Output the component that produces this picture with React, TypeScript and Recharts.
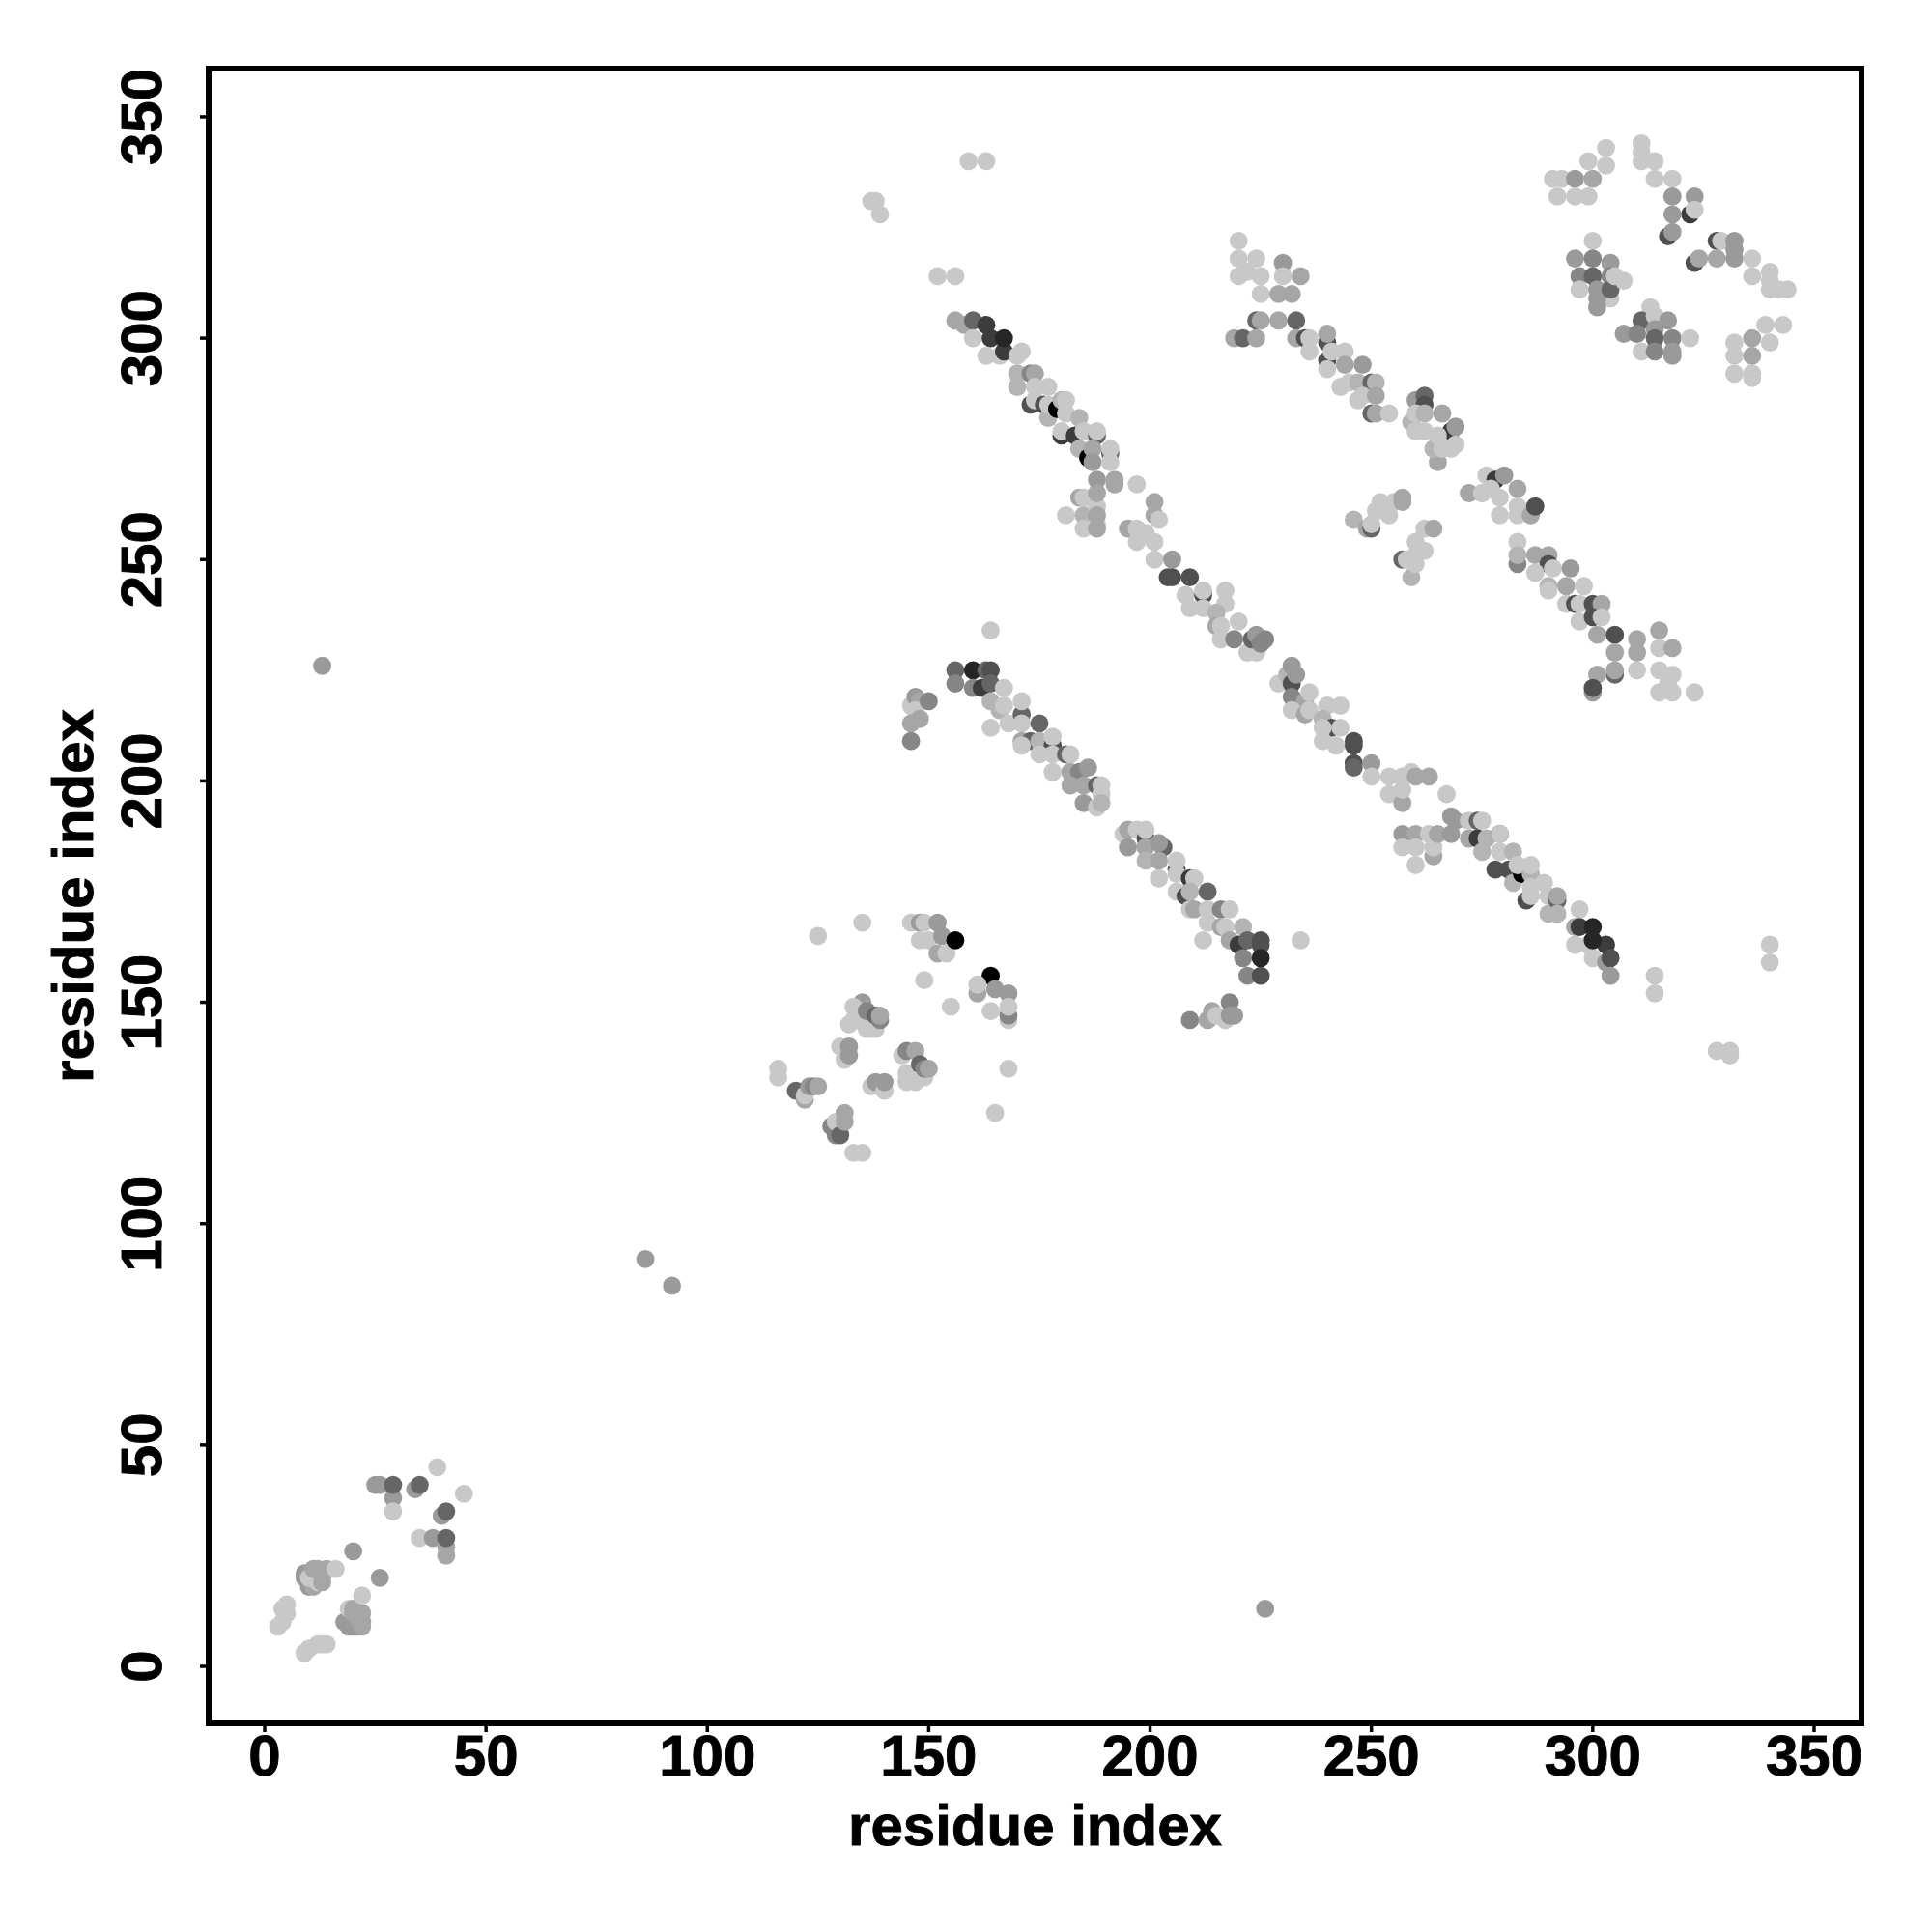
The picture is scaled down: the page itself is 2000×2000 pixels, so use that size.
import React from "react";
import { ScatterChart, Scatter, XAxis, YAxis, ReferenceArea, Label } from "recharts";

type Contact = [number, number, number]; // residue i, residue j, contact level (0 weak .. 9 strong)

const axisTicks = [0, 50, 100, 150, 200, 250, 300, 350];
const xDomain = [-12.66, 360.7];
const yDomain = [-12.87, 360.9];
const levelGreys = ["#c8c8c8", "#b4b4b4", "#a6a6a6", "#9a9a9a", "#868686", "#666666", "#505050", "#3c3c3c", "#262626", "#000000"];

const isolated: Contact[] = [
  [13, 226, 3], [86, 92, 3], [92, 86, 3], [226, 13, 3], [138, 331, 0], [139, 328, 0], [137, 331, 0],
  [159, 340, 0], [163, 340, 0], [152, 314, 0], [156, 314, 0], [164, 234, 0], [164, 212, 0], [197, 267, 0],
  [267, 197, 0], [234, 164, 0], [212, 164, 0], [314, 156, 0], [314, 152, 0], [340, 163, 0], [340, 159, 0],
  [328, 139, 0], [331, 139, 0], [331, 138, 0], [125, 165, 0], [135, 168, 0], [155, 149, 0], [149, 155, 0],
  [168, 135, 0], [165, 125, 0],
];

const bottomLeft: Contact[] = [
  [39, 45, 0], [45, 39, 0], [25, 41, 3], [26, 41, 3], [29, 38, 3], [29, 35, 0], [29, 41, 5], [34, 40, 3], [35, 41, 5],
  [40, 34, 3], [41, 35, 5], [35, 29, 0], [38, 29, 3], [41, 25, 2], [41, 27, 2], [41, 29, 5], [20, 26, 3], [26, 20, 3],
  [9, 21, 3], [9, 20, 3], [10, 18, 3], [10, 19, 3], [11, 18, 2], [10, 20, 0], [12, 19, 0], [11, 22, 2], [12, 22, 2],
  [14, 22, 2], [13, 20, 2], [13, 19, 2], [16, 22, 0],
  [5, 14, 0], [4, 13, 0], [5, 12, 0], [4, 10, 0], [3, 9, 0], [9, 3, 0], [10, 4, 0], [12, 5, 0], [13, 5, 0], [14, 5, 0],
  [18, 10, 3], [19, 9, 3], [20, 9, 3], [21, 9, 3], [22, 9, 2], [19, 13, 0], [20, 12, 2], [22, 12, 2], [20, 13, 2],
  [21, 11, 2], [22, 10, 2], [22, 16, 0],
];

const middleCluster: Contact[] = [
  [146, 168, 0], [148, 168, 3], [149, 168, 0], [152, 168, 3], [148, 164, 0], [150, 164, 0], [153, 165, 3], [152, 161, 2],
  [154, 161, 0], [156, 164, 9],
  [164, 156, 9], [161, 152, 2], [161, 154, 0], [165, 153, 3], [168, 152, 3], [164, 148, 0], [168, 146, 0], [168, 147, 4], [168, 149, 0],
  [135, 150, 3], [133, 149, 0], [133, 146, 0], [132, 145, 0], [134, 146, 0], [136, 144, 0], [137, 144, 0], [138, 144, 0],
  [136, 148, 4], [138, 147, 5], [139, 146, 4], [139, 147, 2],
  [130, 140, 0], [132, 140, 3], [131, 137, 0], [132, 138, 3],
  [144, 138, 0], [145, 139, 4], [147, 139, 2], [145, 134, 0], [145, 132, 0], [147, 132, 0], [149, 133, 0], [148, 136, 5],
  [149, 135, 4], [150, 135, 2],
  [116, 135, 0], [116, 133, 0], [120, 130, 5], [122, 128, 2], [122, 129, 0], [123, 131, 3], [124, 131, 4], [125, 131, 2],
  [137, 131, 0], [138, 132, 3], [140, 130, 0], [140, 132, 3],
  [128, 122, 4], [129, 120, 4], [129, 123, 0], [130, 120, 5], [131, 125, 2], [131, 123, 2], [133, 116, 0], [135, 116, 0],
];

const lowerBand: Contact[] = [
  [146, 217, 0], [147, 219, 3], [148, 218, 2], [147, 216, 0], [146, 213, 2], [148, 214, 2], [146, 209, 4], [150, 218, 4],
  [156, 225, 5], [160, 225, 8], [163, 225, 5], [164, 225, 6], [156, 222, 4], [160, 221, 4], [162, 221, 7], [164, 222, 5],
  [164, 218, 1], [166, 216, 1], [167, 221, 0], [167, 217, 0], [168, 213, 0], [171, 215, 5], [171, 218, 0], [171, 213, 0],
  [171, 209, 2], [173, 209, 5], [171, 208, 0], [175, 213, 5], [175, 209, 1], [178, 208, 6], [178, 210, 0], [175, 206, 0],
  [178, 206, 0], [181, 206, 5], [182, 206, 0], [178, 202, 0], [182, 202, 2], [184, 202, 4], [186, 203, 3], [182, 199, 2],
  [185, 199, 2], [188, 199, 5], [189, 199, 0], [189, 197, 0], [185, 195, 3], [188, 194, 0], [189, 195, 1],
  [194, 188, 0], [195, 189, 2], [195, 185, 3], [197, 189, 0], [199, 187, 6], [199, 189, 0], [199, 185, 2], [199, 182, 1],
  [203, 185, 5], [202, 186, 3], [202, 182, 2], [202, 178, 0], [206, 180, 6], [206, 182, 0], [206, 179, 0], [206, 175, 0],
  [209, 178, 7], [210, 178, 0], [208, 174, 6], [209, 175, 1], [209, 171, 0], [210, 171, 2], [213, 175, 5], [213, 171, 0],
  [216, 171, 4], [218, 171, 0], [213, 168, 0], [216, 167, 2], [217, 167, 0], [218, 164, 2], [221, 167, 1], [220, 163, 7],
  [222, 164, 5], [225, 164, 6], [225, 163, 6], [221, 160, 4], [225, 160, 8], [222, 156, 4], [225, 156, 6],
  [209, 146, 4], [214, 148, 2], [213, 146, 2], [215, 147, 0], [217, 146, 0], [218, 150, 4], [218, 147, 3], [219, 147, 3],
];

const mainDiagonalUpper: Contact[] = [
  [158, 303, 2], [156, 304, 2], [160, 304, 5], [160, 300, 0], [163, 303, 7], [164, 300, 7], [163, 296, 0], [166, 296, 0],
  [167, 297, 7], [167, 300, 8], [170, 296, 0], [171, 297, 0],
  [170, 292, 1], [170, 289, 1], [173, 292, 4], [174, 292, 2], [173, 285, 6], [174, 289, 0], [174, 286, 0], [176, 285, 6],
  [177, 282, 1], [177, 289, 0], [177, 285, 0], [179, 284, 9], [180, 278, 7], [180, 279, 0], [183, 278, 7], [180, 286, 1],
  [181, 286, 0], [181, 283, 0], [184, 282, 1], [185, 279, 0], [184, 275, 1], [188, 278, 5], [188, 279, 0], [186, 273, 9],
  [187, 275, 2], [187, 272, 3], [191, 274, 5], [191, 272, 0], [191, 275, 0],
  [188, 268, 3], [192, 268, 2], [192, 267, 2], [184, 264, 2], [185, 264, 0], [181, 260, 0], [185, 260, 1], [185, 257, 0],
  [188, 262, 0], [188, 258, 0], [188, 265, 2], [188, 260, 2], [188, 257, 2],
  [201, 263, 2], [201, 260, 2], [202, 259, 0], [195, 257, 2], [197, 257, 0], [199, 256, 0], [197, 254, 0], [201, 254, 0],
  [201, 250, 0], [205, 250, 3], [204, 246, 6], [205, 246, 6], [209, 246, 6],
  [208, 242, 0], [212, 242, 6], [212, 243, 0], [217, 243, 0], [217, 240, 0], [209, 239, 0], [212, 239, 0], [215, 238, 1],
  [215, 235, 2], [216, 235, 0], [216, 232, 0], [220, 236, 0], [222, 229, 0], [219, 232, 4], [224, 229, 0], [223, 232, 5],
  [224, 233, 3], [226, 232, 4], [225, 231, 4],
];

const mainDiagonalLower: Contact[] = [
  [229, 222, 0], [231, 224, 1], [232, 226, 3], [232, 222, 6], [232, 219, 4], [233, 224, 3], [235, 218, 2], [236, 220, 0],
  [232, 216, 0], [235, 215, 2], [236, 216, 0], [240, 217, 0], [243, 217, 0], [239, 214, 1], [241, 212, 6], [239, 212, 0],
  [243, 212, 0], [239, 209, 0], [242, 208, 0], [246, 209, 6], [246, 208, 6], [246, 204, 6], [246, 203, 5], [250, 204, 3],
  [250, 201, 0], [254, 201, 0], [259, 202, 0], [257, 201, 0], [254, 197, 0], [257, 195, 2], [257, 198, 0], [260, 201, 2], [263, 201, 2],
  [257, 188, 3], [257, 185, 0], [260, 188, 2], [260, 185, 0], [260, 181, 0], [264, 183, 2], [264, 185, 0], [263, 188, 0],
  [265, 188, 2], [268, 188, 3], [268, 192, 3], [269, 191, 3],
  [272, 187, 2], [274, 187, 7], [272, 191, 0], [274, 191, 5], [275, 191, 0], [276, 187, 1], [275, 184, 1],
  [279, 188, 5], [279, 188, 0], [278, 180, 6], [279, 184, 0], [281, 180, 6], [282, 184, 1], [282, 177, 1], [284, 179, 9],
  [283, 181, 0], [285, 173, 6], [286, 179, 1], [286, 181, 0], [286, 176, 0], [286, 174, 0], [289, 177, 0], [290, 174, 0],
  [290, 170, 1], [292, 173, 5], [292, 174, 2], [292, 170, 1], [297, 171, 0],
  [296, 167, 2], [296, 163, 0], [297, 167, 7], [299, 163, 0], [300, 160, 0], [303, 159, 3], [303, 163, 7], [300, 164, 8],
  [300, 167, 8], [304, 160, 6], [304, 156, 3],
];

const upperBand: Contact[] = [
  [220, 322, 0], [220, 318, 0], [224, 318, 0], [220, 314, 0], [222, 315, 0], [225, 314, 0], [225, 310, 0], [230, 317, 3],
  [230, 314, 0], [234, 314, 2], [229, 310, 2], [232, 310, 2], [224, 304, 5], [225, 304, 2], [229, 304, 2], [233, 304, 5],
  [219, 300, 2], [221, 300, 5], [224, 300, 2],
  [233, 300, 2], [235, 300, 6], [236, 300, 0], [240, 299, 6], [240, 301, 2], [236, 297, 0], [240, 295, 6], [240, 293, 0],
  [241, 297, 0], [244, 297, 0], [244, 294, 2], [248, 294, 3], [243, 289, 0], [245, 290, 0], [247, 290, 1], [250, 290, 5],
  [251, 290, 1], [247, 286, 0], [248, 287, 0], [251, 287, 2], [250, 283, 5], [251, 283, 2], [254, 283, 0],
  [260, 286, 3], [262, 287, 5], [262, 285, 6], [259, 281, 1], [260, 283, 0], [262, 283, 1], [266, 283, 2], [260, 279, 0],
  [262, 279, 0], [268, 279, 7], [269, 280, 3], [265, 272, 2], [264, 275, 1], [265, 278, 0], [266, 275, 0], [268, 275, 0], [269, 276, 0],
  [272, 265, 2], [275, 265, 1], [275, 265, 0], [276, 269, 0], [278, 268, 7], [280, 269, 3], [277, 266, 0], [279, 264, 0],
  [283, 266, 2], [279, 260, 0], [283, 262, 0], [283, 260, 0], [286, 260, 2], [287, 262, 6],
  [246, 259, 1], [249, 257, 2], [250, 257, 5], [250, 258, 0], [251, 261, 0], [252, 263, 0], [254, 260, 0], [255, 263, 0],
  [257, 264, 2], [257, 263, 2],
  [257, 250, 5], [258, 250, 0], [259, 246, 1], [260, 249, 0], [260, 251, 0], [260, 254, 0], [262, 252, 0], [262, 257, 0], [264, 257, 2],
  [283, 254, 0], [283, 249, 4], [283, 251, 1], [287, 251, 2], [290, 251, 2], [290, 249, 6], [287, 247, 0], [291, 248, 0],
  [290, 244, 1], [290, 243, 0], [295, 248, 3], [294, 244, 2], [298, 244, 0], [294, 240, 0], [296, 240, 6], [297, 240, 0],
  [300, 240, 6], [302, 240, 2], [297, 236, 0], [300, 237, 6], [302, 237, 0], [301, 233, 2], [305, 233, 6], [305, 229, 2],
  [305, 224, 5], [305, 225, 2], [301, 224, 2], [300, 220, 3], [300, 221, 6],
  [310, 232, 2], [315, 234, 2], [315, 230, 0], [318, 230, 2], [310, 229, 2], [310, 225, 0], [315, 225, 0], [315, 220, 0],
  [318, 224, 0], [318, 220, 0], [317, 222, 0], [323, 220, 0],
];

const topRight: Contact[] = [
  [303, 343, 0], [303, 339, 0], [299, 340, 0], [291, 336, 0], [293, 336, 0], [296, 336, 3], [300, 336, 2], [292, 332, 0], [296, 332, 0], [299, 332, 0],
  [311, 344, 0], [311, 342, 0], [311, 340, 0], [314, 340, 0], [314, 336, 0], [318, 336, 0],
  [318, 332, 3], [322, 328, 7], [323, 332, 3], [323, 329, 0], [318, 328, 3], [317, 323, 6], [318, 324, 3],
  [328, 322, 6], [329, 322, 0], [332, 322, 3], [332, 320, 3], [332, 318, 3], [328, 318, 2], [323, 317, 6], [324, 318, 2],
  [336, 318, 0], [336, 314, 0], [340, 315, 0], [340, 313, 0], [340, 311, 0], [342, 311, 0], [344, 311, 0],
  [339, 303, 0], [343, 303, 0], [340, 299, 0], [332, 299, 0], [332, 296, 0], [332, 292, 0], [336, 291, 0], [336, 292, 0], [336, 296, 2], [336, 300, 2],
  [300, 322, 0], [296, 318, 3], [300, 318, 4], [304, 317, 3], [297, 314, 4], [300, 314, 5], [304, 314, 4], [297, 311, 0],
  [304, 309, 0], [301, 311, 3], [301, 309, 3], [301, 307, 3], [304, 311, 5], [305, 314, 0], [307, 313, 0],
  [313, 307, 0], [311, 304, 5], [314, 305, 0], [317, 304, 3], [314, 302, 3], [307, 301, 3], [310, 301, 4], [311, 297, 0],
  [314, 300, 5], [318, 300, 4], [322, 300, 0], [314, 297, 4], [318, 297, 3], [318, 296, 3],
];

const contacts = [...isolated, ...bottomLeft, ...middleCluster, ...lowerBand, ...mainDiagonalUpper, ...mainDiagonalLower, ...upperBand, ...topRight]
  .map(([i, j, level]) => ({ i, j, level }));

const labelStyle = { fontFamily: "Liberation Sans", fontWeight: 700, fontSize: 60, fill: "#000", stroke: "#000", strokeWidth: 0.9 };

const XTick = ({ x, y, payload }: any) => (
  <text x={x} y={y + 43} textAnchor="middle" {...labelStyle}>{payload.value}</text>
);

const YTick = ({ x, y, payload }: any) => (
  <text x={x - 38} y={y} textAnchor="middle" transform={`rotate(-90 ${x - 38} ${y})`} {...labelStyle}>{payload.value}</text>
);

const Dot = ({ cx, cy, payload }: any) => <circle cx={cx} cy={cy} r={9.4} fill={levelGreys[payload.level]} />;

export default function App() {
  return (
    <div style={{ position: "absolute", left: 0, top: 0, background: "#fff" }}>
      <ScatterChart width={2000} height={2000} margin={{ top: 71, right: 73, bottom: 0, left: 0 }}>
        <XAxis
          type="number" dataKey="i" domain={xDomain} ticks={axisTicks} allowDataOverflow
          height={216} interval={0} axisLine={false} tickSize={9}
          tickLine={{ stroke: "#000", strokeWidth: 3.5 }} tick={<XTick />}
        >
          <Label value="residue index" position="insideBottom" offset={90} {...labelStyle} />
        </XAxis>
        <YAxis
          type="number" dataKey="j" domain={yDomain} ticks={axisTicks} allowDataOverflow
          width={216} interval={0} axisLine={false} tickSize={9}
          tickLine={{ stroke: "#000", strokeWidth: 3.5 }} tick={<YTick />}
        >
          <Label value="residue index" angle={-90} position="insideLeft" offset={75} style={{ textAnchor: "middle" }} {...labelStyle} />
        </YAxis>
        <Scatter data={contacts} isAnimationActive={false} shape={<Dot />} />
        <ReferenceArea x1={xDomain[0]} x2={xDomain[1]} y1={yDomain[0]} y2={yDomain[1]} fill="none" fillOpacity={0} stroke="#000" strokeWidth={6} ifOverflow="visible" />
      </ScatterChart>
    </div>
  );
}
